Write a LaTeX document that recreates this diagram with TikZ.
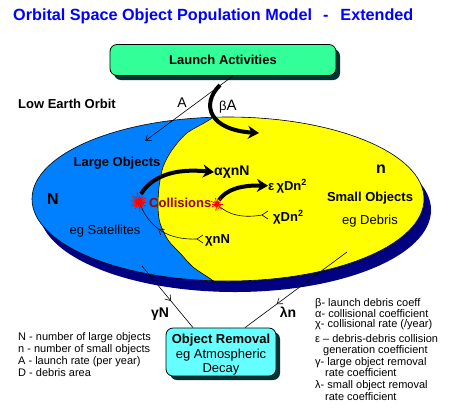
\documentclass[tikz,border=0pt]{standalone}
\usepackage{fontspec}
\setmainfont{Liberation Sans}
\usetikzlibrary{arrows.meta,decorations.markings}
\definecolor{ttlblue}{RGB}{0,0,255}
\definecolor{launchgreen}{RGB}{51,255,153}
\definecolor{boxshadow}{RGB}{0,51,51}
\definecolor{removalcyan}{RGB}{102,255,255}
\definecolor{largeblue}{RGB}{0,128,255}
\definecolor{smallyellow}{RGB}{255,255,0}
\definecolor{orbitnavy}{RGB}{0,0,128}
\definecolor{collred}{RGB}{153,0,0}
\newcommand\fsz[1]{\fontsize{#1bp}{#1bp}\selectfont}
\begin{document}
\begin{tikzpicture}[x=1bp,y=-1bp,
  bftxt/.style={inner sep=0pt, font=\fsz{13}\bfseries},
  rgtxt/.style={inner sep=0pt, font=\fsz{13}},
  legtxt/.style={inner sep=0pt, anchor=base west, font=\fsz{11}},
  fineline/.style={line width=0.6bp},
  bigarrow/.style={line width=4bp, -{Stealth[length=11bp,width=13bp]}},
  smalltip/.style={-{Straight Barb[length=5bp,width=7bp]}},
  midtip/.style={postaction={decorate,decoration={markings,mark=at position #1 with {\arrow{Straight Barb[length=5bp,width=7bp]}}}}},
  boxnode/.style={draw, line width=0.8bp, rounded corners=7bp, inner sep=0pt}
]
\useasboundingbox (0,0) rectangle (449,407);

% title
\node[inner sep=0pt, anchor=base west, font=\fsz{16.2}\bfseries, text=ttlblue] (title) at (13,20)
  {Orbital Space Object Population Model\hspace{11bp}-\hspace{12bp}Extended};

% launch box
\fill[boxshadow, rounded corners=7bp] (114,49) rectangle (340,80);
\node[boxnode, fill=launchgreen, minimum width=226bp, minimum height=31bp, font=\fsz{13}\bfseries] (launch) at (223,60) {Launch Activities};

\node[bftxt, anchor=base west] (leo) at (18,108) {Low Earth Orbit};

% orbit regions
\fill[orbitnavy] (235,210) ellipse [x radius=196bp, y radius=82bp];
\fill[largeblue] (228,199) ellipse [x radius=196bp, y radius=82bp];
\begin{scope}
  \clip (228,199) ellipse [x radius=196bp, y radius=82bp];
  \fill[smallyellow] plot[smooth] coordinates {(228,100) (212,118) (187,133) (172,150) (163,167) (159,187) (158,207) (160,223) (168,240) (180,253) (193,267) (212,280) (232,296)} -- (450,296) -- (450,100) -- cycle;
  \draw[fineline] plot[smooth] coordinates {(228,100) (212,118) (187,133) (172,150) (163,167) (159,187) (158,207) (160,223) (168,240) (180,253) (193,267) (212,280) (232,296)};
\end{scope}
\draw[fineline] (228,199) ellipse [x radius=196bp, y radius=82bp];

% region labels
\node[bftxt, anchor=base] (largelbl) at (117,166.5) {Large Objects};
\node[inner sep=0pt, anchor=base, font=\fsz{16}\bfseries] (Nlbl) at (53,204) {N};
\node[rgtxt, anchor=base] (sat) at (105,234) {eg Satellites};
\node[inner sep=0pt, anchor=base, font=\fsz{16}\bfseries] (nlbl) at (381,173) {n};
\node[bftxt, anchor=base] (smalllbl) at (370,201.5) {Small Objects};
\node[rgtxt, anchor=base] (deb) at (370,224) {eg Debris};
\node[bftxt, anchor=base west, text=collred] (coll) at (149,207.5) {Collisions};

% launch flows
\coordinate (aEnd) at (145,141);
\draw[fineline, smalltip] ([xshift=10bp]launch.south) -- (aEnd);
\node[inner sep=0pt, anchor=base, font=\fsz{14}] (Albl) at (182,107) {A};
\coordinate (bA0) at (220,85);
\coordinate (bA1) at (259,133);
\draw[bigarrow] (bA0) .. controls (200,105) and (210,130) .. (bA1);
\node[inner sep=0pt, anchor=base west] (bAlbl) at (219,110) {{\fsz{13}β}{\fsz{15}A}};

% collision flows
\coordinate (s1) at (139,202);
\coordinate (s2) at (217,204);
\node[inner sep=0pt, anchor=base west, font=\fsz{14}\bfseries] (alphalbl) at (214,175.5) {αχnN};
\node[bftxt, anchor=base west] (epslbl) at (268,190) {ε\,χDn\raisebox{5bp}{\fsz{9}2}};
\node[bftxt, anchor=base west] (chiDlbl) at (273,221) {χDn\raisebox{5bp}{\fsz{9}2}};
\node[bftxt, anchor=base west] (chinlbl) at (205,243) {χnN};
\coordinate (c1a) at (141,194);
\coordinate (c2a) at (219,200);
\draw[bigarrow] (c1a) .. controls (152,176) and (175,168) .. (alphalbl.west);
\draw[bigarrow] (c2a) .. controls (226,190) and (240,185) .. (epslbl.west);
\coordinate (f2) at (262,215);
\draw[fineline] (s2) .. controls (228,216) and (245,218) .. (f2);
\draw[fineline] (f2) -- ++(6,-4) (f2) -- ++(6,4);
\coordinate (f1) at (197,239);
\draw[fineline, midtip=0.55] (f1) .. controls (170,240) and (150,230) .. (s1);
\draw[fineline] (f1) -- ++(6,-4) (f1) -- ++(6,4);

% splats
\foreach \a/\r in {0/7,17/5,33/8,50/6,68/8,85/10,100/6,118/8,135/7,152/9,170/7,190/8,205/6,222/9,240/7,258/10,275/7,292/8,310/7,328/8,345/6}
  \draw[red, line width=0.7bp] (s1) -- ++(\a:\r);
\fill[red] (s1) circle [radius=3.5bp];
\foreach \a/\r in {0/6,25/4,50/7,75/5,100/7,125/4,150/6,180/5,205/7,230/4,255/6,280/5,305/7,330/4}
  \draw[red, line width=0.7bp] (s2) -- ++(\a:\r);
\fill[red] (s2) circle [radius=2.5bp];

% removal
\fill[boxshadow, rounded corners=7bp] (170,332) rectangle (280,380);
\node[boxnode, fill=removalcyan, minimum width=110bp, minimum height=48bp] (removal) at (221,352) {};
\coordinate (gN0) at (142,266);
\coordinate (lN0) at (347,252);
\draw[fineline, midtip=0.57] (gN0) -- ([xshift=-28bp]removal.north);
\draw[fineline, midtip=0.69] (lN0) -- ([xshift=24bp]removal.north);
\node[inner sep=0pt, anchor=base, font=\fsz{14}\bfseries] (gNlbl) at (160,317) {γN};
\node[inner sep=0pt, anchor=base, font=\fsz{14}\bfseries] (lnlbl) at (288,317) {λn};
\node[bftxt, anchor=base] (rm1) at (221,343.5) {Object Removal};
\node[rgtxt, anchor=base] (rm2) at (221,358.5) {eg Atmospheric};
\node[rgtxt, anchor=base] (rm3) at (221,372.5) {Decay};

% legends
\node[legtxt] (legN) at (18,340.5) {N - number of large objects};
\node[legtxt] (legn) at (18,352.5) {n - number of small objects};
\node[legtxt] (legA) at (18,364.5) {A - launch rate (per year)};
\node[legtxt] (legD) at (18,376.5) {D - debris area};

\node[legtxt] (kb) at (315,306) {β- launch debris coeff};
\node[legtxt] (ka) at (315,317.5) {α- collisional coefficient};
\node[legtxt] (kc) at (315,327.5) {χ- collisional rate (/year)};
\node[legtxt] (ke) at (315,342.5) {ε – debris-debris collision};
\node[legtxt] (ke2) at (323,353.5) {generation coefficient};
\node[legtxt] (kg) at (315,365.5) {γ- large object removal};
\node[legtxt] (kg2) at (325,376.5) {rate coefficient};
\node[legtxt] (kl) at (315,388.5) {λ- small object removal};
\node[legtxt] (kl2) at (325,400.5) {rate coefficient};
\end{tikzpicture}
\end{document}
